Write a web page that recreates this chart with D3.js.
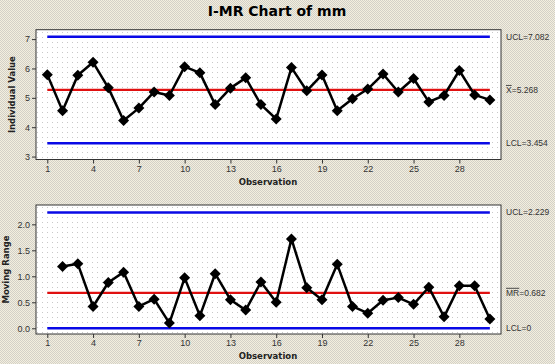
<!DOCTYPE html>
<html><head><meta charset="utf-8">
<script src="https://cdn.jsdelivr.net/npm/d3@7"></script>
<style>
html,body{margin:0;padding:0;background:#e6e2d6;}
svg{display:block;}
</style></head>
<body>
<svg id="c" width="555" height="364"></svg>
<script>
const observations = d3.range(1, 31);
const individualValues = [5.79,4.56,5.77,6.21,5.34,4.23,4.65,5.20,5.08,6.06,5.85,4.77,5.33,5.68,4.77,4.28,6.03,5.24,5.78,4.56,4.97,5.30,5.81,5.20,5.66,4.86,5.08,5.93,5.10,4.93];
const movingRanges = [null,1.19,1.24,0.42,0.88,1.08,0.42,0.56,0.10,0.97,0.24,1.05,0.55,0.35,0.89,0.50,1.72,0.78,0.55,1.23,0.42,0.29,0.54,0.59,0.46,0.79,0.22,0.82,0.82,0.18];
const xTicks = [1,4,7,10,13,16,19,22,25,28];
const iTicks = [3,4,5,6,7];
const mrTicks = [0,0.5,1.0,1.5,2.0];
const iLimits = {ucl:7.082, center:5.268, lcl:3.454};
const mrLimits = {ucl:2.229, center:0.682, lcl:0};

const svg = d3.select("#c");
const defs = svg.append("defs");
const bg = defs.append("pattern").attr("id","bg").attr("width",2).attr("height",2).attr("patternUnits","userSpaceOnUse");
bg.append("rect").attr("width",2).attr("height",2).attr("fill","#f3efde");
bg.append("rect").attr("width",1).attr("height",1).attr("fill","#d3d0c8");
bg.append("rect").attr("x",1).attr("y",1).attr("width",1).attr("height",1).attr("fill","#d3d0c8");
const dots = defs.append("pattern").attr("id","dots").attr("width",5).attr("height",5).attr("patternUnits","userSpaceOnUse");
dots.append("rect").attr("width",5).attr("height",5).attr("fill","#ffffff");
dots.append("rect").attr("x",2).attr("y",2).attr("width",1).attr("height",1).attr("fill","#c8c8c8");

svg.append("rect").attr("width",555).attr("height",364).attr("fill","url(#bg)");

svg.append("text").attr("x",277).attr("y",16).attr("text-anchor","middle")
  .attr("font-family","DejaVu Sans").attr("font-weight","bold").attr("font-size",14)
  .attr("fill","#000").text("I-MR Chart of mm");

const x = d3.scaleLinear().domain([0.26,30.73]).range([36,501]);

function panel(opts){
  const y = d3.scaleLinear().domain(opts.domain).range([opts.bottom, opts.top]);
  const g = svg.append("g");
  g.append("rect").attr("x",36).attr("y",opts.top).attr("width",465).attr("height",opts.bottom-opts.top)
    .attr("fill","url(#dots)");
  const ya = g.append("g").attr("transform","translate(36,0)")
    .call(d3.axisLeft(y).tickValues(opts.yTicks).tickSize(4).tickPadding(2).tickFormat(opts.fmt));
  ya.select(".domain").remove();
  ya.selectAll("line").attr("stroke","#333");
  ya.selectAll("text").attr("font-family","Liberation Sans").attr("font-size",9).attr("fill","#333");
  const xa = g.append("g").attr("transform",`translate(0,${opts.bottom})`)
    .call(d3.axisBottom(x).tickValues(xTicks).tickSize(4).tickPadding(2).tickFormat(d3.format("d")));
  xa.select(".domain").remove();
  xa.selectAll("line").attr("stroke","#333");
  xa.selectAll("text").attr("font-family","Liberation Sans").attr("font-size",9).attr("fill","#333");
  g.append("rect").attr("x",36).attr("y",opts.top).attr("width",465).attr("height",opts.bottom-opts.top)
    .attr("fill","none").attr("stroke","#333").attr("stroke-width",1);
  g.append("text").attr("x",268).attr("y",opts.bottom+25).attr("text-anchor","middle")
    .attr("font-family","DejaVu Sans").attr("font-weight","bold").attr("font-size",8.5).attr("fill","#222").text("Observation");
  g.append("text").attr("transform",`translate(${opts.ylabX},${(opts.top+opts.bottom)/2}) rotate(-90)`)
    .attr("text-anchor","middle").attr("font-family","DejaVu Sans").attr("font-weight","bold").attr("font-size",8.5)
    .attr("fill","#222").text(opts.ylab);
  const x0 = x(1), x1 = x(30);
  [["ucl","#0a0ae6",2.5],["lcl","#0a0ae6",2.5],["center","#e01010",2.2]].forEach(([k,c,w])=>{
    g.append("line").attr("x1",x0).attr("x2",x1).attr("y1",y(opts.limits[k])).attr("y2",y(opts.limits[k]))
      .attr("stroke",c).attr("stroke-width",w);
  });
  const lab = (v, parts) => {
    const t = g.append("text").attr("x",506).attr("y",y(v)+3).attr("font-family","Liberation Sans")
      .attr("font-size",8.5).attr("fill","#333");
    parts.forEach(p=>{
      const ts = t.append("tspan").text(p.t);
      if (p.o) ts.attr("text-decoration","overline");
    });
  };
  lab(opts.limits.ucl, [{t:"UCL="+opts.limits.ucl}]);
  lab(opts.limits.center, opts.centerLabel);
  lab(opts.limits.lcl, [{t:"LCL="+opts.limits.lcl}]);
  const pts = observations.map((o,i)=>({o, v: opts.values[i]})).filter(d=>d.v!=null);
  g.append("path").datum(pts).attr("fill","none").attr("stroke","#000").attr("stroke-width",2.5)
    .attr("stroke-linejoin","round")
    .attr("d", d3.line().x(d=>x(d.o)).y(d=>y(d.v)));
  g.selectAll(".pt").data(pts).join("path").attr("class","pt")
    .attr("transform",d=>`translate(${x(d.o)},${y(d.v)})`)
    .attr("d","M0,-5.5L5.5,0L0,5.5L-5.5,0Z").attr("fill","#000");
}

panel({top:29.7, bottom:159.5, domain:[2.9,7.32], yTicks:iTicks, fmt:d3.format("d"),
  values:individualValues, limits:iLimits, ylab:"Individual Value", ylabX:15,
  centerLabel:[{t:"X",o:true},{t:"=5.268"}]});
panel({top:205, bottom:334, domain:[-0.11,2.372], yTicks:mrTicks, fmt:d3.format(".1f"),
  values:movingRanges, limits:mrLimits, ylab:"Moving Range", ylabX:9,
  centerLabel:[{t:"MR",o:true},{t:"=0.682"}]});
</script>
</body></html>
